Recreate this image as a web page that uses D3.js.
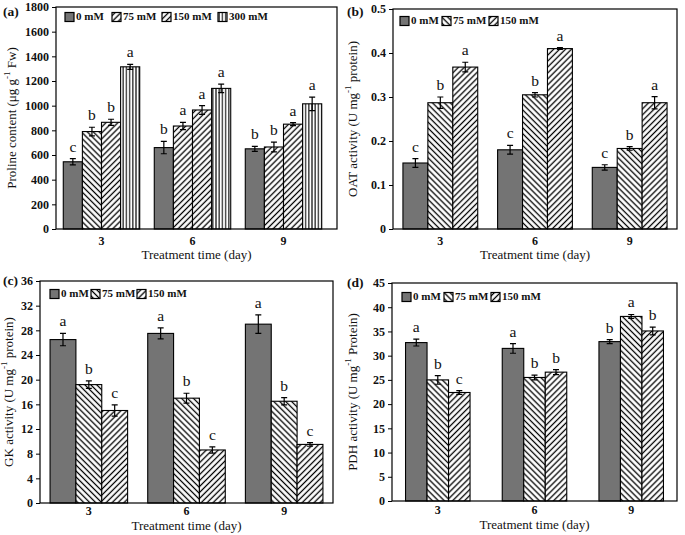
<!DOCTYPE html>
<html><head><meta charset="utf-8">
<script src="https://cdn.jsdelivr.net/npm/d3@7"></script>
<style>body{margin:0;background:#fff} text{font-family:"Liberation Serif","Times New Roman",serif;fill:#111}</style>
</head><body><svg id="chart" width="685" height="535"></svg>
<script>
// ---------- DATA ----------
const days = ["3", "6", "9"];

const seriesA = ["0 mM", "75 mM", "150 mM", "300 mM"];
const prolineMean = [[545, 660, 650], [790, 835, 665], [865, 965, 850], [1315, 1140, 1015]];
const prolineErr  = [[25, 50, 20], [35, 30, 40], [25, 35, 12], [20, 35, 55]];
const prolineSig  = [["c", "b", "b"], ["b", "a", "b"], ["b", "a", "a"], ["a", "a", "a"]];
const ticksA = [0, 200, 400, 600, 800, 1000, 1200, 1400, 1600, 1800];

const seriesB = ["0 mM", "75 mM", "150 mM"];
const oatMean = [[0.150, 0.180, 0.140], [0.287, 0.305, 0.183], [0.368, 0.410, 0.287]];
const oatErr  = [[0.010, 0.010, 0.006], [0.013, 0.005, 0.004], [0.011, 0.002, 0.014]];
const oatSig  = [["c", "c", "c"], ["b", "b", "b"], ["a", "a", "a"]];
const ticksB = [0, 0.1, 0.2, 0.3, 0.4, 0.5];

const seriesC = ["0 mM", "75 mM", "150 mM"];
const gkMean = [[26.5, 27.5, 29.0], [19.2, 17.0, 16.5], [15.0, 8.6, 9.5]];
const gkErr  = [[1.0, 0.9, 1.5], [0.6, 0.8, 0.6], [0.9, 0.5, 0.3]];
const gkSig  = [["a", "a", "a"], ["b", "b", "b"], ["c", "c", "c"]];
const ticksC = [0, 4, 8, 12, 16, 20, 24, 28, 32, 36];

const seriesD = ["0 mM", "75 mM", "150 mM"];
const pdhMean = [[32.7, 31.5, 32.9], [25.0, 25.5, 38.1], [22.4, 26.6, 35.1]];
const pdhErr  = [[0.7, 1.0, 0.4], [0.9, 0.5, 0.4], [0.4, 0.5, 0.8]];
const pdhSig  = [["a", "a", "b"], ["b", "b", "a"], ["c", "b", "b"]];
const ticksD = [0, 5, 10, 15, 20, 25, 30, 35, 40, 45];

// ---------- STYLE / LAYOUT ----------
const svg = d3.select("#chart");
const defs = svg.append("defs");
function hatch(id, angle, gap, sw) {
  const p = defs.append("pattern").attr("id", id).attr("patternUnits", "userSpaceOnUse")
    .attr("width", gap).attr("height", gap).attr("patternTransform", `rotate(${angle})`);
  p.append("rect").attr("width", gap).attr("height", gap).attr("fill", "#fff");
  p.append("line").attr("x1", gap / 2).attr("y1", 0).attr("x2", gap / 2).attr("y2", gap)
    .attr("stroke", "#000").attr("stroke-width", sw);
}
hatch("fwd", 45, 4.2, 1.3);
hatch("back", -45, 4.2, 1.3);
hatch("vert", 0, 3.2, 1.1);
const GRAY = "#747474";
const fillOf = k => k === "gray" ? GRAY : `url(#${k})`;
const SERIF = '"Liberation Serif","Times New Roman",serif';

const panels = [
  { tag: "(a)", tagX: 3, tagY: 16, series: seriesA, mean: prolineMean, err: prolineErr, sig: prolineSig,
    ticks: ticksA, fmt: d => d, left: 56, right: 337, top: 7, bottom: 229, bandRange: [56, 329], pi: 0.16, po: 0.08,
    fills: [["gray","gray","gray"],["back","fwd","fwd"],["fwd","fwd","fwd"],["vert","vert","vert"]],
    legendFills: ["gray","fwd","fwd","vert"], legendX: [65, 112, 162, 218], legendY: 17,
    ytitle: ["Proline content (μg g", "-1", " Fw)"], ytitleX: 13, xtick: 7, xtitle: 30 },
  { tag: "(b)", tagX: 347, tagY: 16, series: seriesB, mean: oatMean, err: oatErr, sig: oatSig,
    ticks: ticksB, fmt: d => d === 0 ? "0" : d3.format(".1f")(d), left: 393, right: 677, top: 9, bottom: 229,
    bandRange: [393, 677], pi: 0.21, po: 0.105,
    fills: [["gray","gray","gray"],["back","back","back"],["fwd","fwd","fwd"]],
    legendFills: ["gray","back","fwd"], legendX: [400, 442, 489], legendY: 21,
    ytitle: ["OAT activity (U mg", "-1", " protein)"], ytitleX: 354, xtick: 7, xtitle: 30 },
  { tag: "(c)", tagX: 3, tagY: 285, series: seriesC, mean: gkMean, err: gkErr, sig: gkSig,
    ticks: ticksC, fmt: d => d, left: 40, right: 333, top: 281, bottom: 503, bandRange: [40, 333], pi: 0.206, po: 0.103,
    fills: [["gray","gray","gray"],["back","back","back"],["fwd","fwd","fwd"]],
    legendFills: ["gray","back","fwd"], legendX: [50, 91, 137], legendY: 294,
    ytitle: ["GK activity (U mg", "-1", " protein)"], ytitleX: 10, xtick: 3, xtitle: 27 },
  { tag: "(d)", tagX: 347, tagY: 287, series: seriesD, mean: pdhMean, err: pdhErr, sig: pdhSig,
    ticks: ticksD, fmt: d => d, left: 392, right: 677, top: 283, bottom: 501, bandRange: [392, 677], pi: 0.333, po: 0.14,
    fills: [["gray","gray","gray"],["back","back","back"],["fwd","fwd","fwd"]],
    legendFills: ["gray","back","fwd"], legendX: [402, 444, 491], legendY: 297,
    ytitle: ["PDH activity (U mg", "-1", " Protein)"], ytitleX: 354, xtick: 4, xtitle: 28 }
];

panels.forEach(P => {
  const g = svg.append("g");
  const y = d3.scaleLinear().domain([P.ticks[0], P.ticks[P.ticks.length - 1]]).range([P.bottom, P.top]);
  const x0 = d3.scaleBand().domain(days).range(P.bandRange).paddingInner(P.pi).paddingOuter(P.po);
  const x1 = d3.scaleBand().domain(d3.range(P.series.length)).range([0, x0.bandwidth()]);

  // bars
  P.series.forEach((s, si) => {
    const rows = days.map((d, di) => ({ d, di, v: P.mean[si][di], e: P.err[si][di], s: P.sig[si][di] }));
    const bg = g.append("g");
    bg.selectAll("rect").data(rows).join("rect")
      .attr("x", r => x0(r.d) + x1(si)).attr("width", x1.bandwidth())
      .attr("y", r => y(r.v)).attr("height", r => P.bottom - y(r.v))
      .attr("fill", r => fillOf(P.fills[si][r.di])).attr("stroke", "#000").attr("stroke-width", 1.1);
    const cx = r => x0(r.d) + x1(si) + x1.bandwidth() / 2;
    bg.selectAll("path.err").data(rows).join("path").attr("class", "err")
      .attr("d", r => `M${cx(r)},${y(r.v + r.e)}V${y(r.v - r.e)}M${cx(r) - 3},${y(r.v + r.e)}h6M${cx(r) - 3},${y(r.v - r.e)}h6`)
      .attr("stroke", "#000").attr("stroke-width", 1.2).attr("fill", "none");
    bg.selectAll("text.sig").data(rows).join("text").attr("class", "sig")
      .attr("x", cx).attr("y", r => y(r.v + r.e) - 7).attr("text-anchor", "middle")
      .attr("font-size", 15.5).text(r => r.s);
  });

  // frame
  g.append("rect").attr("x", P.left).attr("y", P.top).attr("width", P.right - P.left).attr("height", P.bottom - P.top)
    .attr("fill", "none").attr("stroke", "#000").attr("stroke-width", 1.2);

  // y axis
  const ya = d3.axisLeft(y).tickValues(P.ticks).tickFormat(P.fmt).tickSize(4).tickPadding(3);
  const yg = g.append("g").attr("transform", `translate(${P.left},0)`).call(ya);
  yg.select(".domain").remove();
  yg.selectAll("text").attr("font-size", 12).attr("font-weight", "bold")
    .style("font-family", SERIF).attr("fill", "#111");

  // x axis
  const xa = d3.axisBottom(x0).tickSize(0).tickPadding(P.xtick);
  const xg = g.append("g").attr("transform", `translate(0,${P.bottom})`).call(xa);
  xg.select(".domain").remove();
  xg.selectAll("text").attr("font-size", 12).attr("font-weight", "bold")
    .style("font-family", SERIF).attr("fill", "#111");

  // x title
  g.append("text").attr("x", (P.left + P.right) / 2).attr("y", P.bottom + P.xtitle).attr("text-anchor", "middle")
    .attr("font-size", 13).text("Treatment time (day)");

  // y title
  const yt = g.append("text").attr("transform", `translate(${P.ytitleX},${(P.top + P.bottom) / 2}) rotate(-90)`)
    .attr("text-anchor", "middle").attr("dominant-baseline", "middle").attr("font-size", 13);
  yt.append("tspan").text(P.ytitle[0]);
  yt.append("tspan").attr("dy", -5).attr("font-size", 9).text(P.ytitle[1]);
  yt.append("tspan").attr("dy", 5).text(P.ytitle[2]);

  // panel tag
  g.append("text").attr("x", P.tagX).attr("y", P.tagY).attr("font-size", 13.5).attr("font-weight", "bold").text(P.tag);

  // legend
  P.series.forEach((s, si) => {
    const lx = P.legendX[si];
    g.append("rect").attr("x", lx).attr("y", P.legendY - 4.5).attr("width", 9).attr("height", 9)
      .attr("fill", fillOf(P.legendFills[si])).attr("stroke", "#000").attr("stroke-width", 1.2);
    g.append("text").attr("x", lx + 11).attr("y", P.legendY).attr("dominant-baseline", "middle")
      .attr("font-size", 11).attr("font-weight", "bold").text(s);
  });
});
</script></body></html>
